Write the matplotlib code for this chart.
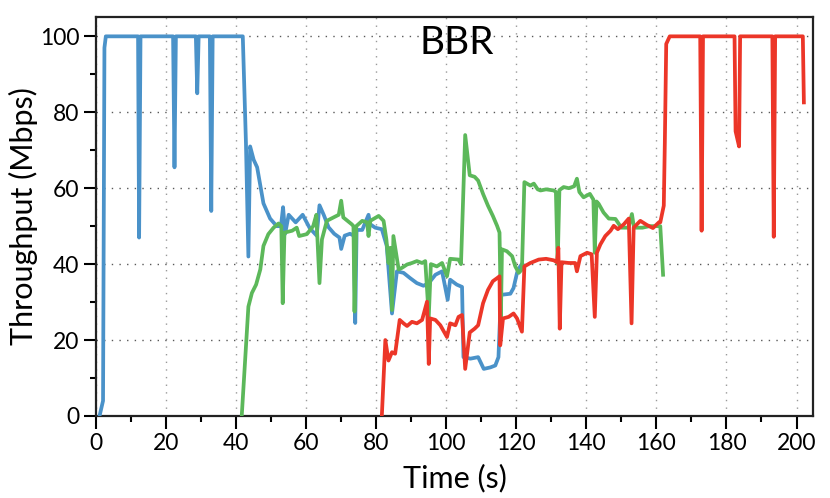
import matplotlib
matplotlib.use("Agg")
import matplotlib.pyplot as plt
from matplotlib.ticker import MultipleLocator

plt.rcParams['font.family'] = ['Lato', 'DejaVu Sans']

# Flow 1 (blue)
blue_t = [1.0, 2.0, 2.4, 2.8, 12.0, 12.3, 12.7, 22.0, 22.4, 22.8, 28.5, 28.9, 29.3,
          32.5, 32.9, 33.3, 41.9, 42.8, 43.5, 44.0, 45.0, 46.0, 47.8, 49.7, 51.6,
          52.8, 53.4, 54.0, 55.0, 57.0, 59.0, 61.0, 63.0, 63.8, 65.0, 66.4, 68.0,
          69.5, 70.0, 71.0, 72.5, 73.6, 74.0, 74.4, 76.0, 77.8, 78.3, 79.7, 81.6,
          83.0, 84.5, 85.9, 87.8, 89.7, 91.6, 93.5, 95.0, 96.9, 98.8, 100.4, 101.1,
          103.0, 104.5, 104.9, 106.9, 109.1, 110.7, 112.6, 114.0, 114.9, 115.6,
          118.3, 119.2, 120.2, 121.1, 121.6]
blue_v = [0, 4, 97, 100, 100, 47, 100, 100, 65.5, 100, 100, 85, 100,
          100, 54, 100, 100, 72, 42, 71, 67.5, 65.5, 56, 52, 50,
          50, 55, 48, 53, 51, 53, 49.5, 47.5, 55.5, 53, 49.7, 48,
          47, 44, 47.5, 48, 47.5, 24.5, 49, 49, 53, 50.5, 49.6, 49.2,
          44.8, 27, 38.1, 37.7, 36.3, 35, 34.3, 35, 37.2, 38.1, 30.6, 35.9,
          34.6, 34, 15.5, 15.1, 15.5, 12.4, 12.8, 13.3, 15.5, 31.9,
          32.2, 33.7, 37.7, 39.4, 40]

# Flow 2 (green)
green_t = [41.6, 43.5, 44.5, 45.7, 46.9, 47.8, 49.2, 50.7, 52.1, 52.9, 53.3, 53.8,
           56.0, 57.3, 58.0, 60.2, 62.0, 62.9, 63.8, 64.5, 65.9, 67.8, 69.3, 70.0,
           70.6, 73.0, 73.5, 73.8, 74.3, 76.0, 77.4, 77.8, 78.3, 80.7, 82.1, 82.9,
           83.5, 84.0, 84.5, 84.9, 86.4, 87.3, 88.8, 90.2, 91.6, 93.1, 94.0, 95.0,
           95.6, 97.3, 98.8, 100.2, 101.1, 103.5, 104.2, 105.4, 106.7, 108.1, 109.1,
           110.5, 111.9, 113.3, 114.5, 115.2, 115.6, 115.9, 117.3, 118.8, 119.7,
           120.7, 121.6, 122.3, 124.0, 125.0, 126.1, 126.9, 128.5, 130.7, 131.3,
           131.8, 132.3, 133.5, 135.0, 136.5, 137.3, 138.0, 139.2, 141.0, 142.0,
           142.4, 142.9, 143.5, 144.9, 146.4, 148.3, 150.0, 152.0, 153.0, 153.6,
           156.0, 158.0, 161.1, 161.9]
green_v = [0, 28.8, 32.4, 34.6, 38.6, 44.8, 47.9, 49.6, 50.7, 50, 29.7, 48.3,
           48.8, 49.6, 47.4, 47.9, 50, 53, 35, 46.5, 51.4, 52.3, 53, 56.7,
           52.3, 50.5, 50, 27.5, 50, 51.4, 51, 47.4, 51.4, 52.7, 51.4, 46.5,
           40.3, 44.3, 27.9, 47.4, 38.6, 39, 39.9, 40.3, 40.8, 40.3, 40.8, 26.1,
           40, 39.4, 40.3, 36.8, 41.4, 41.2, 40, 74, 63.4, 63, 62,
           58.5, 55.4, 52.7, 50.1, 48.3, 26.1, 43.9, 43.4, 42.1, 39.4,
           37.7, 38.6, 61.6, 60.7, 61.2, 59.7, 59.4, 59.7, 59.4, 59,
           40, 59.5, 60.3, 60, 60.5, 62.5, 59, 57.6, 58.5, 57,
           43, 56.5, 55.9, 53.6, 52, 51.9, 49.6, 49.6, 53.2, 49.6,
           49.6, 50, 50, 37.2]

# Flow 3 (red)
red_t = [81.6, 82.6, 83.5, 84.5, 85.4, 86.7, 87.8, 88.8, 90.2, 91.6, 93.1, 94.5,
         95.0, 95.4, 96.9, 98.3, 100.2, 101.1, 102.6, 103.5, 104.5, 105.4, 106.7,
         108.1, 109.1, 110.5, 111.9, 113.3, 114.5, 115.2, 115.4, 116.2, 117.8,
         119.2, 120.2, 121.6, 122.3, 124.0, 126.4, 128.5, 130.7, 131.6, 132.0,
         132.4, 132.9, 135.0, 136.8, 137.3, 138.3, 140.2, 141.5, 142.4, 143.0,
         144.0, 145.4, 146.9, 147.8, 149.0, 150.7, 152.1, 152.9, 153.5, 155.4,
         157.3, 159.0, 160.7, 161.1, 162.1, 162.4, 162.8, 163.8, 172.5, 172.9,
         173.3, 182.3, 182.6, 183.6, 183.9, 193.1, 193.5, 193.9, 201.8, 202.1]
red_v = [0, 20, 14.6, 16.8, 16.4, 25.3, 24.4, 23.7, 24.8, 24.4, 25.3, 30.1,
         13.7, 25.7, 25.3, 23.9, 20.8, 24.4, 23.9, 26.1, 26.6, 12.4, 22,
         23, 23.9, 29.7, 33.2, 35.5, 36.3, 36.8, 18.6, 25.7, 26.1,
         27, 25.7, 22.2, 39.4, 40.3, 41.2, 41.4, 41, 40.5, 44.3,
         23, 40.5, 40.3, 40.3, 38.1, 42.1, 43, 42.6, 26.1, 43,
         45.2, 47.4, 48.8, 50.1, 49.2, 50.5, 52, 24.4, 49.6, 51.4,
         50.3, 49.5, 51, 51, 55.4, 72, 98, 100, 100, 48.8,
         100, 100, 75, 71, 100, 100, 47.2, 100, 100, 82.6]

x_ticks = [0, 20, 40, 60, 80, 100, 120, 140, 160, 180, 200]
y_ticks = [0, 20, 40, 60, 80, 100]

fig = plt.figure(figsize=(8.3, 4.98), dpi=100)
ax = fig.add_axes([0.1157, 0.1647, 0.8638, 0.8012])

lw = 2.7
ax.plot(blue_t, blue_v, color='#4a92c9', lw=lw, zorder=3)
ax.plot(green_t, green_v, color='#5cb85a', lw=lw, zorder=4)
ax.plot(red_t, red_v, color='#ec3628', lw=lw, zorder=5)

ax.set_xlim(0, 204.7)
ax.set_ylim(0, 105.1)
ax.set_xticks(x_ticks)
ax.set_yticks(y_ticks)
ax.xaxis.set_minor_locator(MultipleLocator(10))
ax.yaxis.set_minor_locator(MultipleLocator(10))

ax.tick_params(which='major', direction='out', length=9, width=1.5,
               labelsize=16.5, pad=3, top=False, right=False)
ax.tick_params(which='minor', direction='out', length=4.5, width=1.5,
               top=False, right=False)

for s in ax.spines.values():
    s.set_linewidth(1.6)
    s.set_color('#222222')

ax.grid(True, axis='y', which='major', color='0.35', linestyle=(0, (1, 4.5)), lw=1.0)
ax.grid(True, axis='x', which='major', color='0.6', linestyle=(0, (1, 4.5)), lw=1.0)
ax.set_axisbelow(True)

ax.set_xlabel('Time (s)', fontsize=22, labelpad=7)
ax.set_ylabel('Throughput (Mbps)', fontsize=22, labelpad=1)

ax.text(103, 98.2, 'BBR', fontsize=28, ha='center', va='center', zorder=6)

fig.savefig('out.png', dpi=100)
